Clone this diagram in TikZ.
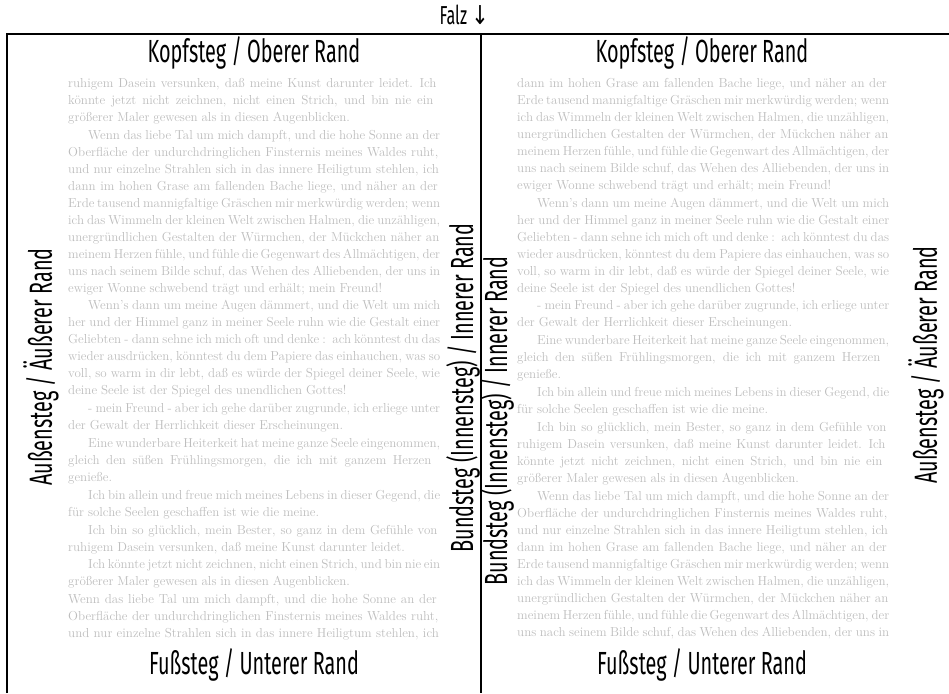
\documentclass[tikz,border=0pt]{standalone}
\usepackage{fontspec}
\newfontfamily\randfont[FakeStretch=0.62]{Fira Sans}
\newfontfamily\pfeilfont[FakeStretch=0.8]{DejaVu Sans}
\definecolor{blindgrau}{gray}{0.74}

% Absaetze des Blindtextes, Zeilenumbrueche wie im Satzspiegel
\newcommand\absTal{Wenn das liebe Tal um mich dampft, und die hohe Sonne an der\linebreak
Oberfläche der undurchdringlichen Finsternis meines Waldes ruht,\linebreak
und nur einzelne Strahlen sich in das innere Heiligtum stehlen, ich}
\newcommand\absGras{dann im hohen Grase am fallenden Bache liege, und näher an der\linebreak
Erde tausend mannigfaltige Gräschen mir merkwürdig werden; wenn\linebreak
ich das Wimmeln der kleinen Welt zwischen Halmen, die unzähligen,\linebreak
unergründlichen Gestalten der Würmchen, der Mückchen näher an\linebreak
meinem Herzen fühle, und fühle die Gegenwart des Allmächtigen, der\linebreak
uns nach seinem Bilde schuf, das Wehen des Alliebenden, der uns in}
\newcommand\absWonne{ewiger Wonne schwebend trägt und erhält; mein Freund!}
\newcommand\absMitte{Wenn's dann um meine Augen dämmert, und die Welt um mich\linebreak
her und der Himmel ganz in meiner Seele ruhn wie die Gestalt einer\linebreak
Geliebten - dann sehne ich mich oft und denke : ach könntest du das\linebreak
wieder ausdrücken, könntest du dem Papiere das einhauchen, was so\linebreak
voll, so warm in dir lebt, daß es würde der Spiegel deiner Seele, wie\linebreak
deine Seele ist der Spiegel des unendlichen Gottes!\par
- mein Freund - aber ich gehe darüber zugrunde, ich erliege unter\linebreak
der Gewalt der Herrlichkeit dieser Erscheinungen.\par
Eine wunderbare Heiterkeit hat meine ganze Seele eingenommen,\linebreak
gleich den süßen Frühlingsmorgen, die ich mit ganzem Herzen\linebreak
genieße.\par
Ich bin allein und freue mich meines Lebens in dieser Gegend, die\linebreak
für solche Seelen geschaffen ist wie die meine.\par}
\newcommand\absMaler{könnte jetzt nicht zeichnen, nicht einen Strich, und bin nie ein\linebreak
größerer Maler gewesen als in diesen Augenblicken.}

\begin{document}
\begin{tikzpicture}[
  x=1pt, y=1pt,
  rand/.style={font=\randfont\fontsize{32}{32}\selectfont, inner sep=0pt},
  falzlabel/.style={font=\randfont\fontsize{26}{26}\selectfont, inner sep=0pt},
  blindtext/.style={anchor=north west, inner sep=0pt, text width=372pt,
    text=blindgrau, font=\fontsize{13}{17}\selectfont,
    execute at begin node={\setlength\parindent{20pt}\setlength\parskip{0.8pt}%
      \spaceskip=.3em plus .6em minus .2em \hyphenpenalty=10000
      \emergencystretch=0pt \tolerance=9999}}
]
\useasboundingbox (0,0) rectangle (949,693);
% Rahmen und Falz
\coordinate (obenL) at (7,659);
\coordinate (obenR) at (949,659);
\coordinate (untenL) at (7,0);
\coordinate (falzO) at (481,659);
\coordinate (falzU) at (481,0);
\draw[line width=1.8pt] (untenL) -- (obenL) -- (obenR);
\draw[line width=1.3pt] (falzO) -- (falzU);
\node[falzlabel, anchor=east] (falz) at (489,678) {Falz {\pfeilfont↓}};
% Stege
\node[rand] (kopfL) at (254,640) {Kopfsteg / Oberer Rand};
\node[rand] (kopfR) at (702,640) {Kopfsteg / Oberer Rand};
\node[rand] (fussL) at (254,28) {Fußsteg / Unterer Rand};
\node[rand] (fussR) at (702,28) {Fußsteg / Unterer Rand};
\node[rand, rotate=90] (aussenL) at (41,326) {Außensteg / Äußerer Rand};
\node[rand, rotate=90] (aussenR) at (926,328) {Außensteg / Äußerer Rand};
\node[rand, rotate=90] (bundL) at (463,305) {Bundsteg (Innensteg) / Innerer Rand};
\node[rand, rotate=90] (bundR) at (497,272) {Bundsteg (Innensteg) / Innerer Rand};
% Satzspiegel
\node[blindtext] (textL) at (68,615) {\noindent ruhigem Dasein versunken, daß meine Kunst darunter leidet. Ich\linebreak
\absMaler\par
\absTal\linebreak\absGras\linebreak\absWonne\par
\absMitte
Ich bin so glücklich, mein Bester, so ganz in dem Gefühle von\linebreak
ruhigem Dasein versunken, daß meine Kunst darunter leidet.\par
Ich \absMaler\par
\noindent\absTal\parfillskip=0pt\par};
\node[blindtext] (textR) at (517,615) {\noindent\absGras\linebreak\absWonne\par
\absMitte
Ich bin so glücklich, mein Bester, so ganz in dem Gefühle von\linebreak
ruhigem Dasein versunken, daß meine Kunst darunter leidet. Ich\linebreak
\absMaler\par
\absTal\linebreak\absGras\parfillskip=0pt\par};
\end{tikzpicture}
\end{document}
